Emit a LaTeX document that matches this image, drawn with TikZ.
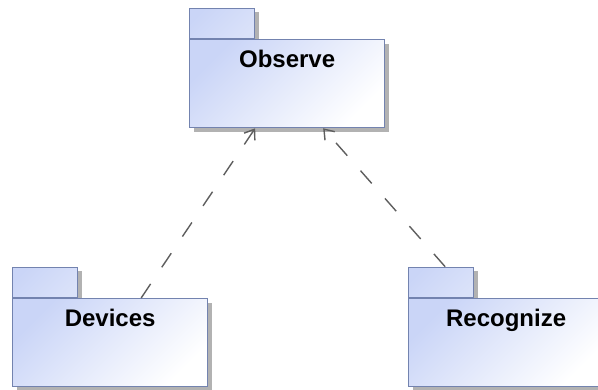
\documentclass[tikz,border=0pt]{standalone}
\usepackage{fontspec}
\setsansfont{Liberation Sans}
\usetikzlibrary{arrows.meta,shadows,backgrounds}

\definecolor{pkgfill}{HTML}{CAD5F7}
\definecolor{pkgline}{HTML}{7383AF}
\definecolor{depline}{HTML}{5E5E5E}

\tikzset{
  package/.style = {draw=pkgline, line width=1.3pt, rectangle, font=\sffamily\bfseries\fontsize{24}{28}\selectfont,
                    minimum width=195pt, inner sep=0pt, text height=28pt, text depth=60pt,
                    left color=pkgfill, right color=white, shading angle=45,
                    drop shadow={shadow xshift=4pt, shadow yshift=-4pt, fill=black!30, opacity=1}},
  tab/.style     = {draw=pkgline, line width=1.3pt, rectangle, inner sep=0pt, minimum width=65pt, minimum height=30pt,
                    left color=pkgfill, right color=pkgfill!70!white, shading angle=45,
                    drop shadow={shadow xshift=4pt, shadow yshift=-4pt, fill=black!30, opacity=1}},
  depend/.style  = {draw=depline, line width=1.4pt, dash pattern=on 17pt off 20pt, -{Straight Barb[length=9pt,width=13pt]}}
}

\begin{document}
\begin{tikzpicture}[x=1pt, y=-1pt]
\useasboundingbox (0,0) rectangle (598,389);

% the three packages, placed at the corners of their bodies
\node[package, anchor=north west] (obs) at (189,39)  {Observe};
\node[package, anchor=north west] (dev) at (12,298)  {Devices};
\node[package, anchor=north west] (rec) at (408,298) {Recognize};

% tabs on top of each package
\begin{scope}[on background layer]
\foreach \pkg in {obs,dev,rec}
  \node[tab, anchor=south west] (\pkg-tab) at (\pkg.north west) {};
\end{scope}

% dependencies on Observe
\draw[depend] ([xshift=31pt]dev.north) -- ([xshift=-32pt]obs.south);
\draw[depend] ([xshift=4pt]rec-tab.north) -- ([xshift=36pt]obs.south);
\end{tikzpicture}
\end{document}
